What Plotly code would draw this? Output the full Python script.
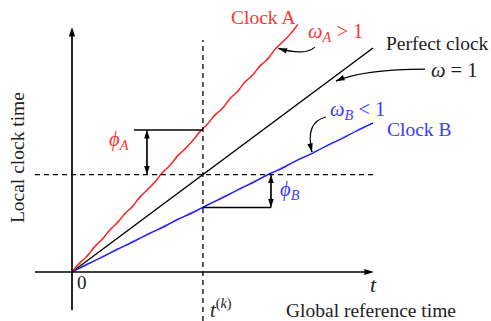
import plotly.graph_objects as go

# ---- data (diagram units: global time t on x, local clock reading on y) ----
t_perfect = [0.0, 10.0]
y_perfect = [0.0, 10.0]

t_clock_a = [0.0, 0.25, 0.5, 0.75, 1.0, 1.25, 1.5, 1.75, 2.0, 2.25, 2.5, 2.75, 3.0,
             3.25, 3.5, 3.75, 4.0, 4.25, 4.5, 4.75, 5.0, 5.25, 5.5, 5.75, 6.0,
             6.25, 6.5, 6.75, 7.0, 7.25, 7.5]
y_clock_a = [0.0, 0.40, 0.70, 1.14, 1.45, 1.88, 2.18, 2.60, 2.90, 3.35, 3.66, 4.00, 4.45,
             4.75, 5.18, 5.48, 5.86, 6.27, 6.60, 7.02, 7.30, 7.75, 8.05, 8.50, 8.78,
             9.22, 9.50, 9.96, 10.27, 10.62, 11.05]
# second, fainter trace of the same clock (reading jitter)
y_clock_a2 = [0.0, 0.33, 0.76, 1.07, 1.50, 1.82, 2.24, 2.55, 2.96, 3.28, 3.70, 4.05, 4.38,
              4.80, 5.12, 5.53, 5.84, 6.22, 6.64, 6.96, 7.36, 7.69, 8.11, 8.44, 8.84,
              9.16, 9.56, 9.90, 10.31, 10.60, 11.02]

t_clock_b = [0.0, 0.5, 1.0, 1.5, 2.0, 2.5, 3.0, 3.5, 4.0, 4.5, 5.0, 5.5, 6.0, 6.5,
             7.0, 7.5, 8.0, 8.5, 9.0, 9.5, 10.0]
y_clock_b = [0.0, 0.35, 0.66, 1.02, 1.32, 1.68, 1.98, 2.35, 2.64, 3.00, 3.31, 3.67,
             3.98, 4.35, 4.64, 5.01, 5.30, 5.67, 5.97, 6.34, 6.65]
y_clock_b2 = [0.0, 0.31, 0.70, 0.98, 1.37, 1.64, 2.03, 2.31, 2.69, 2.96, 3.36, 3.63,
              4.03, 4.31, 4.69, 4.97, 5.35, 5.63, 6.02, 6.30, 6.67]

t_k = 4.35            # sampling instant t^(k)
reading_a_at_tk = 6.34
reading_b_at_tk = 2.88

# ---- styling ----
RED = "#ff1a1a"
RED_TXT = "#ff3535"
BLUE = "#1a1aff"
BLUE_TXT = "#3b3bff"
INK = "#222222"
FONT = "Liberation Serif, DejaVu Serif, serif"
TXT = 19.5
MATH = 20.5

# pixel scale of one diagram unit (x, y) used to orient short arrowheads
SX, SY = 30.1, 22.4
X_RANGE = [-72 / SX, (491 - 72) / SX]
Y_RANGE = [-(321 - 272) / SY, 272 / SY]

fig = go.Figure()

fig.add_trace(go.Scatter(x=t_perfect, y=y_perfect, mode="lines",
                         line=dict(color="black", width=1.5), hoverinfo="skip"))
fig.add_trace(go.Scatter(x=t_clock_a, y=y_clock_a2, mode="lines", opacity=0.7,
                         line=dict(color=RED, width=0.8, shape="spline"), hoverinfo="skip"))
fig.add_trace(go.Scatter(x=t_clock_a, y=y_clock_a, mode="lines",
                         line=dict(color=RED, width=1.3, shape="spline"), hoverinfo="skip"))
fig.add_trace(go.Scatter(x=t_clock_b, y=y_clock_b2, mode="lines", opacity=0.7,
                         line=dict(color=BLUE, width=0.8, shape="spline"), hoverinfo="skip"))
fig.add_trace(go.Scatter(x=t_clock_b, y=y_clock_b, mode="lines",
                         line=dict(color=BLUE, width=1.3, shape="spline"), hoverinfo="skip"))

shapes = []
annotations = []


def arrow(x0, y0, x1, y1, width=1.5, head=9, both=False):
    """Straight segment with a filled arrowhead at (x1, y1) (and (x0, y0) if both)."""
    ends = [((x0, x1), (y0, y1))]
    if both:
        ends.append(((x1, x0), (y1, y0)))
    for xs, ys in ends:
        fig.add_trace(go.Scatter(
            x=list(xs), y=list(ys), mode="lines+markers", hoverinfo="skip",
            line=dict(color="black", width=width),
            marker=dict(symbol="arrow", size=head, color="black",
                        angleref="previous", line=dict(width=0))))


def line(x0, y0, x1, y1, dash="solid", width=1.5):
    shapes.append(dict(type="line", x0=x0, y0=y0, x1=x1, y1=y1, xref="x", yref="y",
                       line=dict(color="black", width=width, dash=dash)))


def curved_arrow(start, ctrl, tip):
    (sx, sy), (cx, cy), (tx, ty) = start, ctrl, tip
    shapes.append(dict(type="path", xref="x", yref="y",
                       path=f"M {sx},{sy} Q {cx},{cy} {tx},{ty}",
                       line=dict(color="black", width=1.2)))
    dx, dy = (tx - cx) * SX, (ty - cy) * SY
    n = (dx * dx + dy * dy) ** 0.5
    back = 6.0
    arrow(tx - back * dx / n / SX, ty - back * dy / n / SY, tx, ty, width=1.2, head=9)


def label(x, y, text, color=INK, size=TXT, **kw):
    annotations.append(dict(x=x, y=y, xref="x", yref="y", text=text, showarrow=False,
                            font=dict(family=FONT, size=size, color=color), **kw))


# axes with arrow tips
arrow(-1.23, 0, 10.03, 0, width=1.7, head=10)
arrow(0, -1.70, 0, 10.94, width=1.7, head=10)

# dashed guides through t^(k)
line(t_k, Y_RANGE[0], t_k, 10.36, dash="5px,4px", width=1.3)
line(-1.23, t_k, 10.07, t_k, dash="5px,4px", width=1.3)

# phase offsets
line(2.06, reading_a_at_tk, t_k, reading_a_at_tk, width=1.3)
arrow(2.49, t_k, 2.49, reading_a_at_tk, width=1.2, both=True)
line(t_k, reading_b_at_tk, 6.61, reading_b_at_tk, width=1.3)
arrow(6.61, reading_b_at_tk, 6.61, t_k, width=1.2, both=True)

# callout arrows
curved_arrow((8.07, 10.04), (7.74, 9.64), (6.86, 9.98))
curved_arrow((11.73, 9.06), (9.73, 9.06), (8.77, 8.53))
curved_arrow((8.44, 6.92), (7.74, 6.70), (7.97, 5.36))

# text
label(6.35, 11.34, "Clock A", RED_TXT)
label(8.74, 10.67, "<i>ω<sub>A</sub></i> > 1", RED_TXT, size=MATH)
label(12.13, 10.18, "Perfect clock")
label(12.72, 9.02, "<i>ω</i> = 1", size=MATH)
label(9.47, 7.23, "<i>ω<sub>B</sub></i> < 1", BLUE_TXT, size=MATH)
label(11.53, 6.34, "Clock B", BLUE_TXT)
label(1.56, 5.89, "<i>ϕ<sub>A</sub></i>", RED_TXT, size=MATH)
label(7.24, 3.62, "<i>ϕ<sub>B</sub></i>", BLUE_TXT, size=MATH)
label(10.0, -0.58, "<i>t</i>", size=22)
label(0.33, -0.49, "0", size=19)
label(4.95, -1.62, "<i>t</i><sup>(<i>k</i>)</sup>", size=MATH)
label(9.93, -1.74, "Global reference time")
label(-1.79, 5.09, "Local clock time", textangle=-90)

fig.update_layout(
    width=491, height=321,
    margin=dict(l=0, r=0, t=0, b=0),
    paper_bgcolor="white", plot_bgcolor="white",
    showlegend=False,
    xaxis=dict(range=X_RANGE, visible=False, fixedrange=True),
    yaxis=dict(range=Y_RANGE, visible=False, fixedrange=True),
    shapes=shapes, annotations=annotations,
)

fig.write_html("out.html")
